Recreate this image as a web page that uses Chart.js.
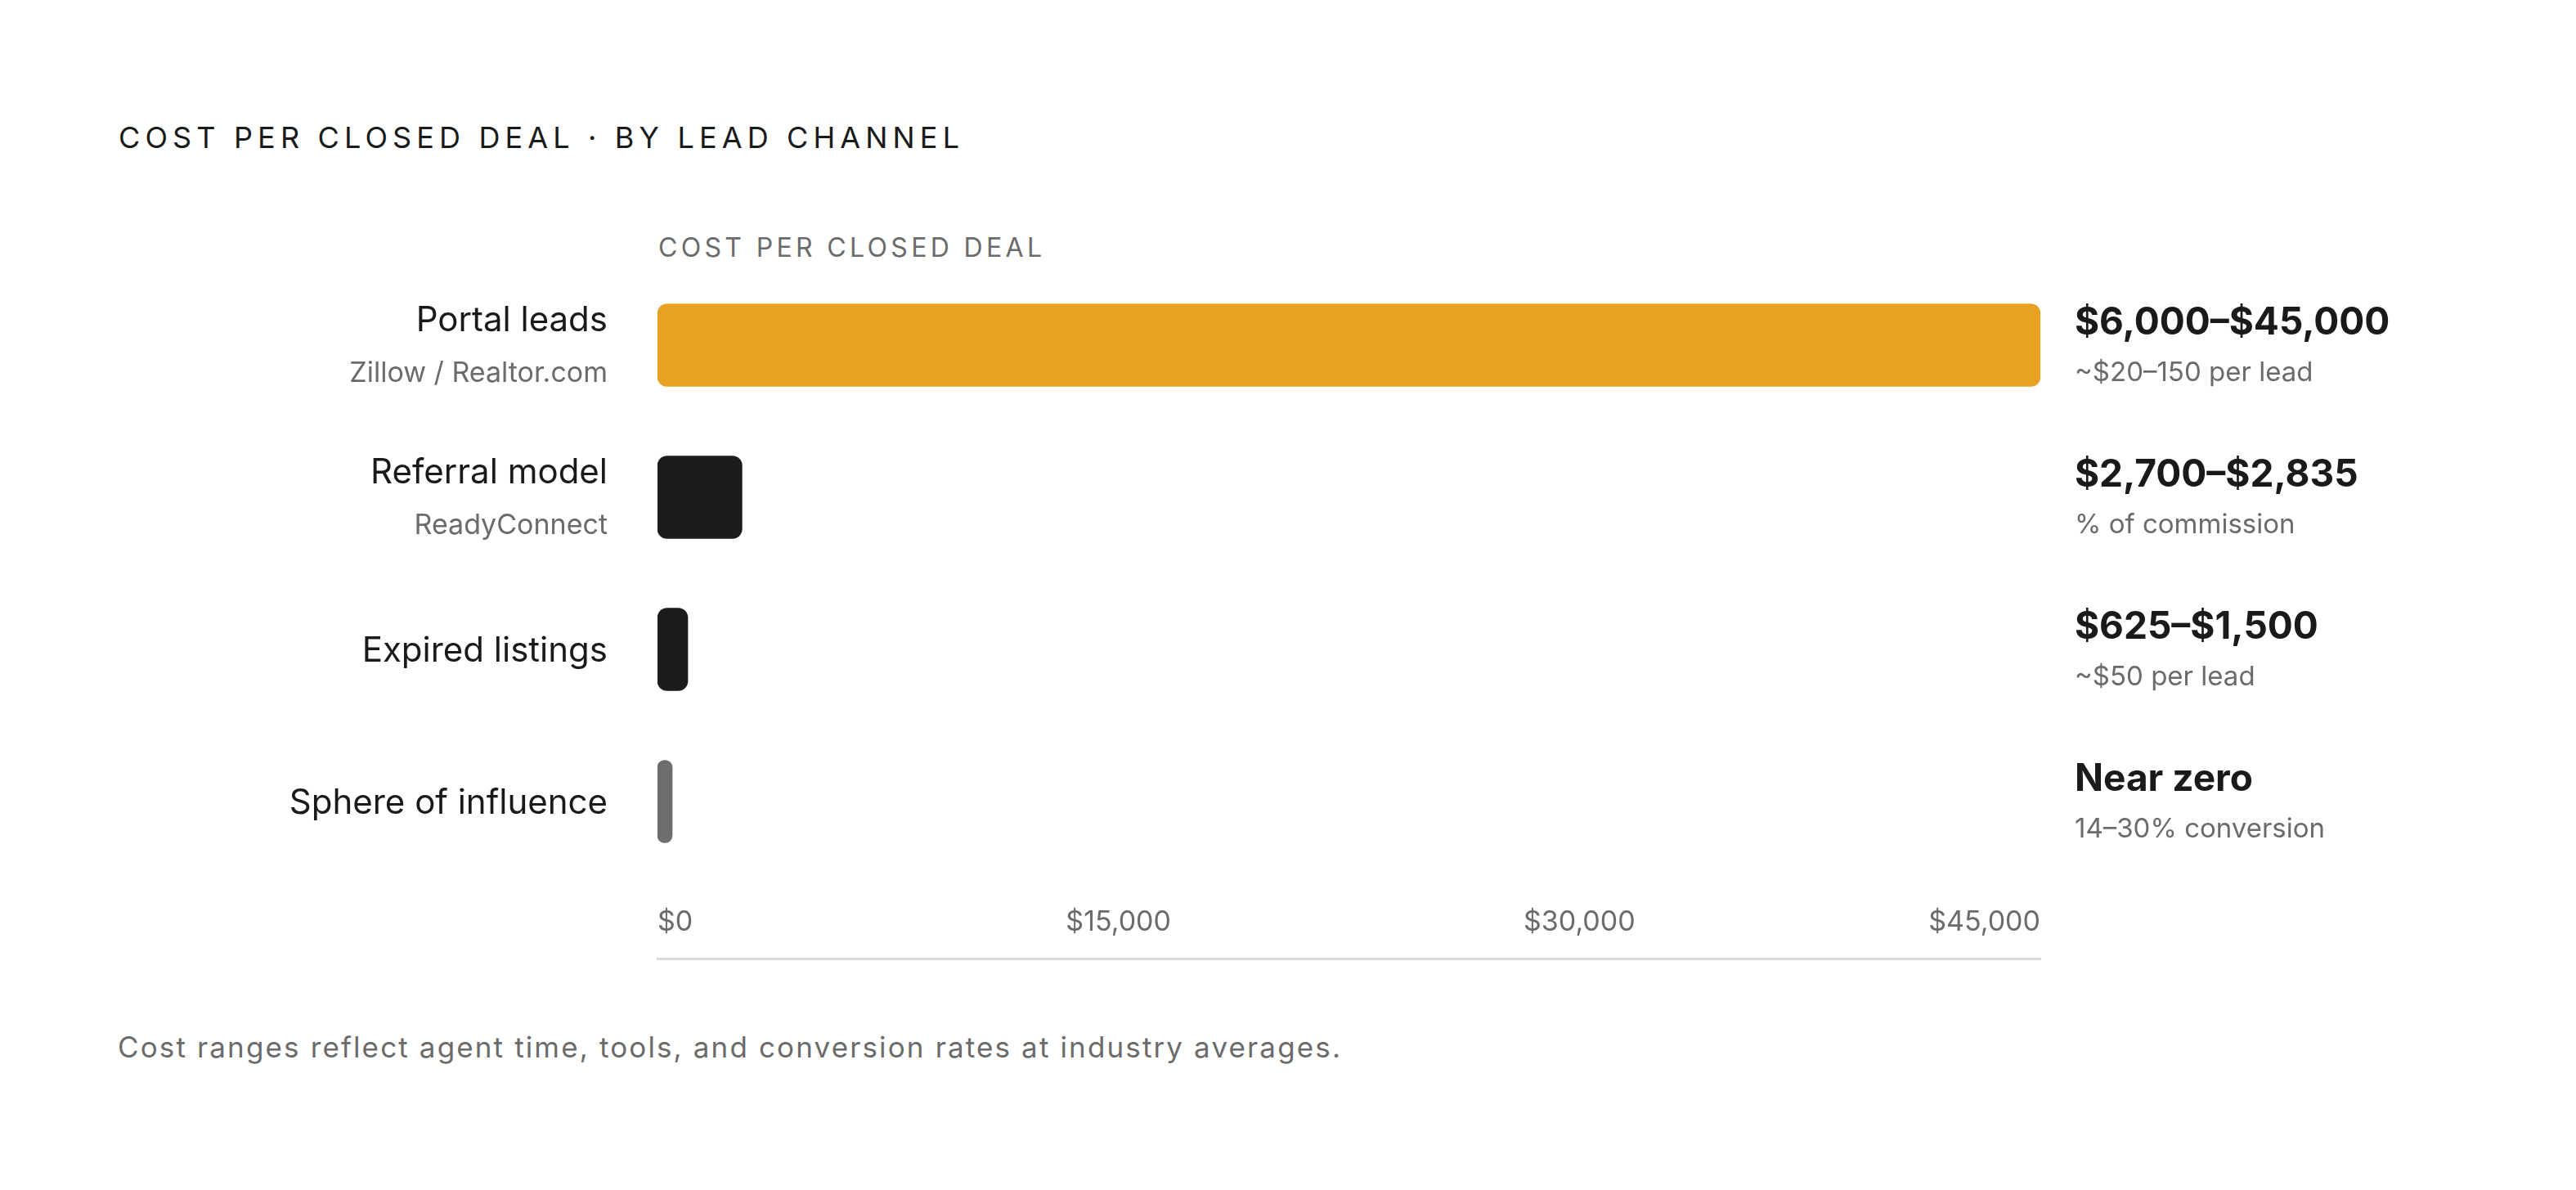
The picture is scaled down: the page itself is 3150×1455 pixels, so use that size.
<!DOCTYPE html>
<html>
<head>
<meta charset="utf-8">
<script src="https://cdn.jsdelivr.net/npm/chart.js@4.4.1/dist/chart.umd.min.js"></script>
<style>
  html, body { margin: 0; padding: 0; background: #fff; }
  body { width: 3150px; height: 1455px; position: relative; overflow: hidden; font-family: Inter, "Noto Sans", sans-serif; }
  #chart { position: absolute; left: 0; top: 0; }
  .txt { position: absolute; white-space: nowrap; line-height: 1; }
  #title { left: 145px; top: 150px; font-size: 36px; color: #1a1a1a; }
  #axisTitle { left: 805px; top: 287px; font-size: 32px; color: #6b6b6b; }
  #footnote { left: 144px; top: 1263px; font-size: 35px; color: #6b6b6b; }
</style>
</head>
<body>
<div id="title" class="txt" data-w="1028">COST PER CLOSED DEAL · BY LEAD CHANNEL</div>
<div id="axisTitle" class="txt" data-w="469">COST PER CLOSED DEAL</div>
<div id="footnote" class="txt" data-w="1495">Cost ranges reflect agent time, tools, and conversion rates at industry averages.</div>
<canvas id="chart" width="3150" height="1455"></canvas>
<script>
var channels = ['Portal leads', 'Referral model', 'Expired listings', 'Sphere of influence'];
var channelSources = ['Zillow / Realtor.com', 'ReadyConnect', '', ''];
var costValues = [45000, 2750, 985, 480];
var costRanges = ['$6,000–$45,000', '$2,700–$2,835', '$625–$1,500', 'Near zero'];
var costNotes = ['~$20–150 per lead', '% of commission', '~$50 per lead', '14–30% conversion'];
var tickValues = [0, 15000, 30000, 45000];
var tickLabels = ['$0', '$15,000', '$30,000', '$45,000'];

var FONT = 'Inter, "Noto Sans", sans-serif';

// spread the headings out to the width they take in the original
document.querySelectorAll('.txt').forEach(function(el) {
    var target = +el.getAttribute('data-w');
    var n = el.textContent.length;
    var natural = el.getBoundingClientRect().width;
    el.style.letterSpacing = ((target - natural) / (n - 1)) + 'px';
});

// names on the left, ranges on the right of every bar
var sideLabels = {
    id: 'sideLabels',
    afterDraw: function(chart) {
        var ctx = chart.ctx;
        var area = chart.chartArea;
        var y = chart.scales.y;
        ctx.save();
        ctx.textBaseline = 'alphabetic';
        for (var i = 0; i < channels.length; i++) {
            var cy = y.getPixelForValue(i);

            ctx.textAlign = 'right';
            ctx.fillStyle = '#1a1a1a';
            ctx.font = '400 42px ' + FONT;
            if (channelSources[i]) {
                ctx.fillText(channels[i], area.left - 61, cy - 17);
                ctx.fillStyle = '#6b6b6b';
                ctx.font = '400 34px ' + FONT;
                ctx.fillText(channelSources[i], area.left - 61, cy + 45);
            } else {
                ctx.fillText(channels[i], area.left - 61, cy + 15);
            }

            ctx.textAlign = 'left';
            ctx.fillStyle = '#1a1a1a';
            ctx.font = '700 46px ' + FONT;
            ctx.fillText(costRanges[i], area.left + area.width + 42, cy - 13);
            ctx.fillStyle = '#6b6b6b';
            ctx.font = '400 33px ' + FONT;
            ctx.fillText(costNotes[i], area.left + area.width + 42, cy + 44);
        }
        ctx.restore();
    }
};

var ctx = document.getElementById('chart').getContext('2d');
window.costChart = new Chart(ctx, {
    type: 'bar',
    data: {
        labels: channels,
        datasets: [{
            data: costValues,
            backgroundColor: ['#e8a122', '#1c1c1c', '#1c1c1c', '#6e6e6e'],
            borderRadius: 12,
            borderSkipped: false,
            barThickness: 101
        }]
    },
    options: {
        indexAxis: 'y',
        responsive: false,
        animation: false,
        devicePixelRatio: 1,
        layout: {
            padding: { left: 804, right: 655, top: 329, bottom: 283 }
        },
        plugins: {
            legend: { display: false },
            tooltip: { enabled: false }
        },
        scales: {
            y: { display: false },
            x: {
                min: 0,
                max: 45000,
                weight: 0,
                afterBuildTicks: function(s) {
                    s.ticks = tickValues.map(function(v) { return { value: v }; });
                },
                afterFit: function(s) { s.height = 99; },
                grid: { display: false, drawTicks: false },
                border: { display: false },
                ticks: {
                    align: 'inner',
                    padding: 34,
                    maxRotation: 0,
                    autoSkip: false,
                    color: '#6b6b6b',
                    font: { family: FONT, size: 34 },
                    callback: function(v, i) { return tickLabels[i]; }
                }
            },
            // only here for the light rule under the tick labels
            x2: {
                type: 'linear',
                position: 'bottom',
                weight: 1,
                afterFit: function(s) { s.height = 0; },
                grid: { display: false, drawTicks: false },
                ticks: { display: false },
                border: { display: true, color: '#d9d9d9', width: 3 }
            }
        }
    },
    plugins: [sideLabels]
});
</script>
</body>
</html>
